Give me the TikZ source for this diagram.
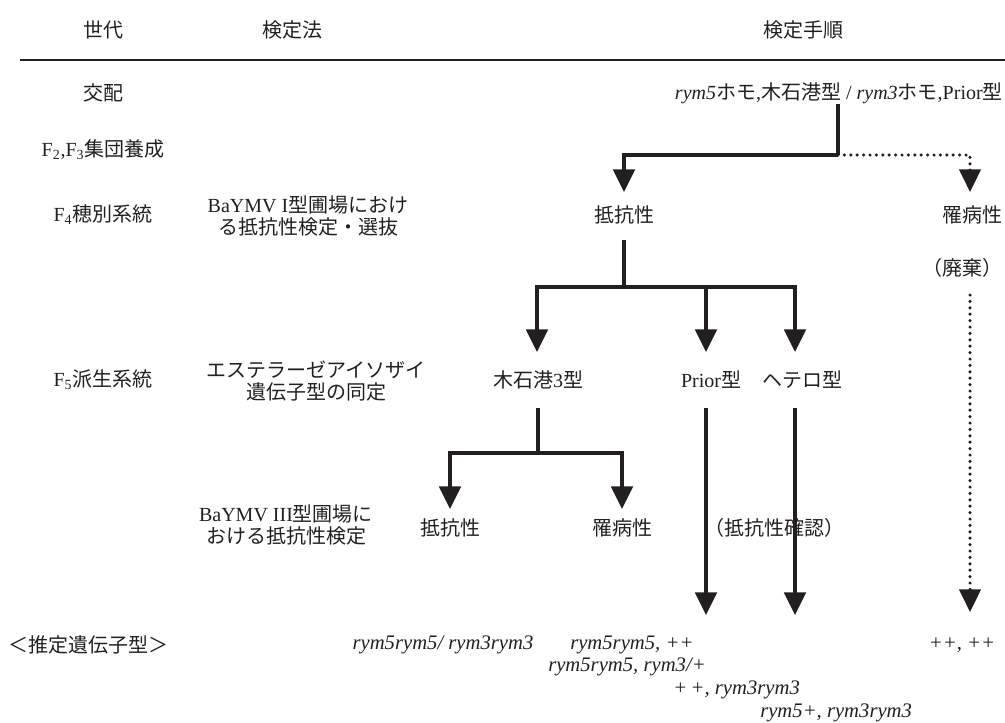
\documentclass[tikz,border=0pt]{standalone}
\usepackage{fontspec}
\setmainfont{Liberation Serif}
\newfontfamily\jp{Noto Sans CJK JP}
\usetikzlibrary{arrows.meta,calc}
\definecolor{ink}{RGB}{35,31,32}
\newcommand\J[1]{{\jp #1}}
\begin{document}
\begin{tikzpicture}[x=0.75pt,y=-0.75pt,
  every node/.style={inner sep=0pt, text=ink, font=\fontsize{15}{17}\selectfont},
  ln/.style={draw=ink, line width=3pt},
  arr/.style={ln, -{Triangle[width=16pt,length=17pt]}},
  dln/.style={draw=ink, line width=2.6pt, line cap=round, dash pattern=on 0pt off 4.8pt},
  darr/.style={dln, -{Triangle[width=16pt,length=17pt]}},
  lbl/.style={align=center},
  gen/.style={font=\fontsize{15.5}{17}\selectfont\itshape}]
\useasboundingbox (0,0) rectangle (1005,722);

% header
\node (h1) at (103,30) {\J{世代}};
\node (h2) at (292,30) {\J{検定法}};
\node (h3) at (803,30) {\J{検定手順}};
\draw[draw=ink, line width=1.6pt] (20,60) coordinate (r0) -- (1005,60) coordinate (r1);

% generation column
\node (g0) at (103,93) {\J{交配}};
\node (g1) at (103,150) {F\textsubscript{2},F\textsubscript{3}\J{集団養成}};
\node (g2) at (103,215) {F\textsubscript{4}\J{穂別系統}};
\node (g3) at (103,380) {F\textsubscript{5}\J{派生系統}};
\node (g4) at (88,645) {\J{＜推定遺伝子型＞}};

% method column
\node[lbl] (m1) at (308,216) {BaYMV I\J{型圃場におけ}\\\J{る抵抗性検定・選抜}};
\node[lbl] (m2) at (316,381) {\J{エステラーゼアイソザイ}\\\J{遺伝子型の同定}};
\node[lbl] (m3) at (286,525) {BaYMV III\J{型圃場に}\\\J{おける抵抗性検定}};

% procedure
\node[anchor=east] (cross) at (1003,93) {\textit{rym5}\J{ホモ},\J{木石港型} / \textit{rym3}\J{ホモ},Prior\J{型}};
\node[anchor=east] (sus1) at (1003,215) {\J{罹病性}};
\node[anchor=east] (disc) at (1003,268) {\J{（廃棄）}};
\node (res1) at (624,215) {\J{抵抗性}};
\node (kis) at (538,380) {\J{木石港}3\J{型}};
\node (pri) at (711,380) {Prior\J{型}};
\node (het) at (802,380) {\J{ヘテロ型}};
\node (res2) at (450,528) {\J{抵抗性}};
\node (sus2) at (622,528) {\J{罹病性}};
\node[anchor=west] (conf) at (704,528) {\J{（抵抗性確認）}};

% genotypes
\node[gen] (b1) at (443,645) {rym5rym5/ rym3rym3};
\node[gen, anchor=west] (b2) at (570,645) {rym5rym5, ++};
\node[gen, anchor=west] (b3) at (548,667) {rym5rym5, rym3/+};
\node[gen, anchor=west] (b4) at (673,690) {+\,+, rym3rym3};
\node[gen, anchor=west] (b5) at (760,713) {rym5+, rym3rym3};
\node[gen] (b6) at (962,645) {++, ++};

% connectors
\coordinate (x0) at (838,104);
\coordinate (j0) at (838,155);
\coordinate (t1) at (970,192);
\draw[ln] (x0) -- (j0);
\draw[arr] (j0) -| ($(res1)+(0,-23)$);
\draw[darr] (j0) -| (t1);

\coordinate (j1) at (624,287);
\draw[ln] ($(res1)+(0,25)$) -- (j1);
\draw[arr] (j1) -| ($(kis)+(-1,-28)$);
\draw[arr] (j1) -| ($(het)+(-7,-28)$);
\draw[arr] ($(j1)+(82,0)$) -- ($(pri)+(-5,-28)$);

\coordinate (j2) at (538,453);
\draw[ln] ($(kis)+(0,28)$) -- (j2);
\draw[arr] (j2) -| ($(res2)+(0,-19)$);
\draw[arr] (j2) -| ($(sus2)+(0,-19)$);

\draw[arr] ($(pri)+(-5,28)$) -- ($(pri)+(-5,235)$) coordinate (pe);
\draw[arr] ($(het)+(-7,28)$) -- ($(het)+(-7,235)$) coordinate (he);
\coordinate (d0) at (970,295);
\coordinate (de) at (970,612);
\draw[darr] (d0) -- (de);
\end{tikzpicture}
\end{document}
